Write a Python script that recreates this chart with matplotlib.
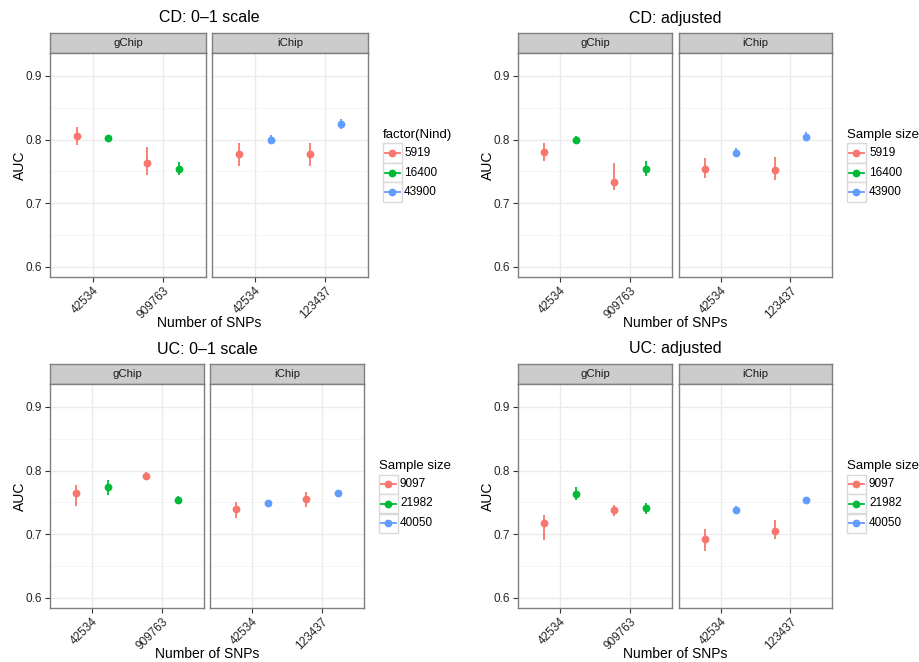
import numpy as np
import matplotlib
matplotlib.use('Agg')
import matplotlib.pyplot as plt
from matplotlib.lines import Line2D
from matplotlib.patches import Rectangle

plt.rcParams['font.family'] = ['Liberation Sans', 'DejaVu Sans']

W, H = 920, 662

#=============== data ===============================
chips = ["gChip", "iChip"]
snp_labels = {"gChip": ["42534", "909763"], "iChip": ["42534", "123437"]}
titles = ["CD: 0\u20131 scale", "CD: adjusted", "UC: 0\u20131 scale", "UC: adjusted"]
legend_titles = ["factor(Nind)", "Sample size", "Sample size", "Sample size"]

cd_sizes = ["5919", "16400", "43900"]
uc_sizes = ["9097", "21982", "40050"]

# group index (0,1,2 -> colour) of the two dodged points at each snp tick
gchip_groups = [0, 1]
ichip_groups = [0, 2]

# auc[chip] -> [snp][group] ; lo / hi are the error bar ends
cd01_auc = {"gChip": [[0.806, 0.803], [0.763, 0.754]], "iChip": [[0.778, 0.799], [0.778, 0.824]]}
cd01_lo = {"gChip": [[0.791, 0.797], [0.745, 0.745]], "iChip": [[0.758, 0.794], [0.758, 0.817]]}
cd01_hi = {"gChip": [[0.820, 0.807], [0.788, 0.764]], "iChip": [[0.795, 0.807], [0.794, 0.832]]}

cdadj_auc = {"gChip": [[0.781, 0.800], [0.733, 0.754]], "iChip": [[0.753, 0.779], [0.752, 0.804]]}
cdadj_lo = {"gChip": [[0.767, 0.795], [0.720, 0.743]], "iChip": [[0.740, 0.772], [0.736, 0.797]]}
cdadj_hi = {"gChip": [[0.794, 0.805], [0.763, 0.766]], "iChip": [[0.771, 0.787], [0.772, 0.812]]}

uc01_auc = {"gChip": [[0.765, 0.774], [0.792, 0.753]], "iChip": [[0.740, 0.749], [0.755, 0.764]]}
uc01_lo = {"gChip": [[0.745, 0.762], [0.787, 0.748]], "iChip": [[0.725, 0.745], [0.743, 0.758]]}
uc01_hi = {"gChip": [[0.777, 0.785], [0.798, 0.760]], "iChip": [[0.751, 0.751], [0.766, 0.768]]}

ucadj_auc = {"gChip": [[0.717, 0.763], [0.738, 0.741]], "iChip": [[0.693, 0.738], [0.705, 0.753]]}
ucadj_lo = {"gChip": [[0.691, 0.754], [0.728, 0.731]], "iChip": [[0.674, 0.733], [0.693, 0.748]]}
ucadj_hi = {"gChip": [[0.730, 0.774], [0.746, 0.749]], "iChip": [[0.708, 0.745], [0.723, 0.759]]}

colors = ["#F8766D", "#00BA38", "#619CFF"]
yticks = [0.6, 0.7, 0.8, 0.9]
yminor = [0.65, 0.75, 0.85]

#=============== layout (pixels) ===============================
plots = [
	dict(oy=0, panels=[(50, 206), (212, 368)], leg=(383, 404),
		auc=cd01_auc, lo=cd01_lo, hi=cd01_hi, sizes=cd_sizes),
	dict(oy=0, panels=[(518, 672), (679, 832)], leg=(847, 869),
		auc=cdadj_auc, lo=cdadj_lo, hi=cdadj_hi, sizes=cd_sizes),
	dict(oy=331, panels=[(50, 204), (210, 364)], leg=(379, 400),
		auc=uc01_auc, lo=uc01_lo, hi=uc01_hi, sizes=uc_sizes),
	dict(oy=331, panels=[(518, 672), (679, 832)], leg=(847, 869),
		auc=ucadj_auc, lo=ucadj_lo, hi=ucadj_hi, sizes=uc_sizes),
]


def rect(x0, y0, x1, y1):
	return [x0 / W, 1 - y1 / H, (x1 - x0) / W, (y1 - y0) / H]


def fx(x):
	return x / W


def fy(y):
	return 1 - y / H


fig = plt.figure(figsize=(W / 100, H / 100), dpi=100)
fig.patch.set_facecolor("white")

for k, p in enumerate(plots):
	oy = p["oy"]
	for j, chip in enumerate(chips):
		x0, x1 = p["panels"][j]
		#------ strip -----
		sax = fig.add_axes(rect(x0, oy + 33, x1, oy + 53))
		sax.set_facecolor("#CCCCCC")
		sax.set_xticks([])
		sax.set_yticks([])
		for sp in sax.spines.values():
			sp.set_color("#7F7F7F")
			sp.set_linewidth(1.0)
		sax.text(0.5, 0.5, chip, transform=sax.transAxes, ha="center", va="center",
			fontsize=8.2, color="#1A1A1A")

		#------ panel -----
		ax = fig.add_axes(rect(x0, oy + 53, x1, oy + 277))
		ax.set_xlim(0.4, 2.6)
		ax.set_ylim(0.584, 0.936)
		ax.set_facecolor("white")
		for yv in yminor:
			ax.axhline(yv, color="#F5F5F5", lw=0.6, zorder=0)
		for yv in yticks:
			ax.axhline(yv, color="#EBEBEB", lw=1.0, zorder=0)
		for xv in [1, 2]:
			ax.axvline(xv, color="#EBEBEB", lw=1.0, zorder=0)

		groups = gchip_groups if chip == "gChip" else ichip_groups
		for s in range(2):
			for g in range(2):
				xpos = s + 1 + (-0.225 if g == 0 else 0.225)
				c = colors[groups[g]]
				ax.plot([xpos, xpos], [p["lo"][chip][s][g], p["hi"][chip][s][g]],
					color=c, lw=1.3, solid_capstyle="butt", zorder=3)
				ax.plot([xpos], [p["auc"][chip][s][g]], "o", color=c, ms=4.6,
					mec=c, zorder=4)

		ax.set_xticks([1, 2])
		ax.set_xticklabels(snp_labels[chip], rotation=45, ha="right", va="top",
			rotation_mode="anchor", fontsize=8.5, color="#262626")
		ax.set_yticks(yticks)
		ax.tick_params(axis="both", direction="out", color="#333333", width=0.8, length=3.5, pad=2)
		if j == 0:
			ax.set_yticklabels(["%.1f" % v for v in yticks], fontsize=8.5, color="#262626")
		else:
			ax.set_yticklabels([])
			ax.tick_params(axis="y", length=0)
		for sp in ax.spines.values():
			sp.set_color("#7F7F7F")
			sp.set_linewidth(1.0)

	#------ titles -----
	px0 = p["panels"][0][0]
	px1 = p["panels"][1][1]
	xc = (px0 + px1) / 2.
	fig.text(fx(xc), fy(oy + 18), titles[k], ha="center", va="center", fontsize=11.5, color="black")
	fig.text(fx(xc), fy(oy + 323), "Number of SNPs", ha="center", va="center", fontsize=10, color="black")
	fig.text(fx(px0 - 30), fy(oy + 165), "AUC", ha="center", va="center", rotation=90,
		fontsize=10, color="black")

	#------ legend -----
	lx, tx = p["leg"]
	fig.text(fx(lx), fy(oy + 135), legend_titles[k], ha="left", va="center", fontsize=9.5, color="black")
	for i, lab in enumerate(p["sizes"]):
		yc = oy + 153 + i * 19.5
		fig.patches.append(Rectangle((fx(lx), fy(yc + 9.5)), 19 / W, 19 / H, transform=fig.transFigure,
			facecolor="white", edgecolor="#D9D9D9", lw=1.0))
		fig.lines.append(Line2D([fx(lx + 2), fx(lx + 17)], [fy(yc), fy(yc)], transform=fig.transFigure,
			color=colors[i], lw=1.3))
		fig.lines.append(Line2D([fx(lx + 9.5)], [fy(yc)], transform=fig.transFigure, marker="o",
			color=colors[i], ms=4.6))
		fig.text(fx(tx), fy(yc), lab, ha="left", va="center", fontsize=8.5, color="black")

fig.savefig("out.png", dpi=100)
